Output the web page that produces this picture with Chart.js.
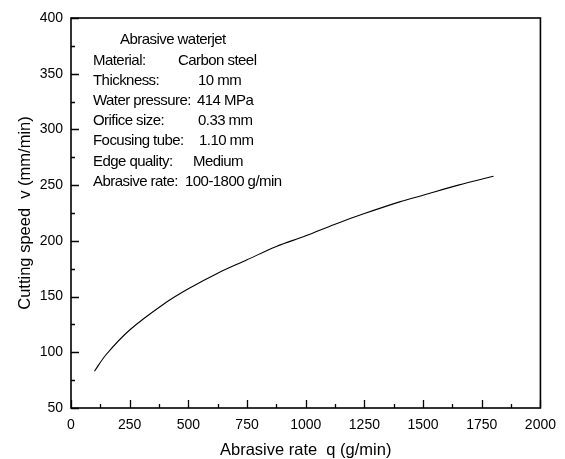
<!DOCTYPE html>
<html>
<head>
<meta charset="utf-8">
<script src="https://cdn.jsdelivr.net/npm/chart.js@4.4.1/dist/chart.umd.min.js"></script>
<style>
  html, body { margin: 0; padding: 0; background: #fff; }
  #wrap { width: 565px; height: 459px; }
</style>
</head>
<body>
<div id="wrap"><canvas id="speedChart"></canvas></div>
<script>
// abrasive flow rate (g/min) vs cutting speed (mm/min)
const abrasiveRate = [100, 150, 250, 400, 500, 625, 750, 875, 1000, 1125, 1250, 1400, 1500, 1650, 1800];
const cuttingSpeed = [83, 98, 120, 144, 157, 171, 183, 195, 204.5, 215, 224.5, 235, 241, 250, 258];

// x ticks every 250, y ticks every 50 (minor ticks halfway)
const xTicks = [0, 250, 500, 750, 1000, 1250, 1500, 1750, 2000];
const yTicks = [50, 100, 150, 200, 250, 300, 350, 400];

// annotation block in the upper left
const infoTitle = 'Abrasive waterjet';
const infoLabels = ['Material:', 'Thickness:', 'Water pressure:', 'Orifice size:', 'Focusing tube:', 'Edge quality:', 'Abrasive rate:'];
const infoValues = ['Carbon steel', '10 mm', '414 MPa', '0.33 mm', '1.10 mm', 'Medium', '100-1800 g/min'];
const infoValueX = [178, 198, 197, 198, 199, 193, 185];

const FONT = '"Liberation Sans", Arial, sans-serif';

const points = abrasiveRate.map((q, i) => ({ x: q, y: cuttingSpeed[i] }));

// frame, inward ticks and the info text
const frameAndNotes = {
    id: 'frameAndNotes',
    afterDraw(chart) {
        const ctx = chart.ctx;
        const a = chart.chartArea;
        const xs = chart.scales.x;
        const ys = chart.scales.y;
        ctx.save();
        ctx.strokeStyle = '#000';
        ctx.lineWidth = 1.6;
        ctx.strokeRect(a.left, a.top, a.right - a.left, a.bottom - a.top);

        ctx.lineWidth = 1.3;
        ctx.beginPath();
        for (let i = 0; i < xTicks.length; i++) {
            const px = Math.round(xs.getPixelForValue(xTicks[i])) + 0.5;
            ctx.moveTo(px, a.bottom);
            ctx.lineTo(px, a.bottom - 8);
            if (i < xTicks.length - 1) {
                const mx = Math.round(xs.getPixelForValue((xTicks[i] + xTicks[i + 1]) / 2)) + 0.5;
                ctx.moveTo(mx, a.bottom);
                ctx.lineTo(mx, a.bottom - 4);
            }
        }
        for (let i = 0; i < yTicks.length; i++) {
            const py = Math.round(ys.getPixelForValue(yTicks[i])) + 0.5;
            ctx.moveTo(a.left, py);
            ctx.lineTo(a.left + 8, py);
            if (i < yTicks.length - 1) {
                const my = Math.round(ys.getPixelForValue((yTicks[i] + yTicks[i + 1]) / 2)) + 0.5;
                ctx.moveTo(a.left, my);
                ctx.lineTo(a.left + 4, my);
            }
        }
        ctx.stroke();

        ctx.fillStyle = '#000';
        ctx.font = '15px ' + FONT;
        ctx.letterSpacing = '-0.55px';
        ctx.textBaseline = 'middle';
        ctx.textAlign = 'left';
        ctx.fillText(infoTitle, 120, 40);
        for (let i = 0; i < infoLabels.length; i++) {
            const y = 60.5 + i * 20.2;
            ctx.fillText(infoLabels[i], 93, y);
            ctx.fillText(infoValues[i], infoValueX[i], y);
        }
        ctx.restore();
    }
};

new Chart(document.getElementById('speedChart').getContext('2d'), {
    type: 'line',
    data: {
        datasets: [{
            label: 'Cutting speed',
            data: points,
            borderColor: '#000',
            borderWidth: 1.1,
            pointRadius: 0,
            fill: false,
            tension: 0.35
        }]
    },
    options: {
        responsive: true,
        maintainAspectRatio: false,
        animation: false,
        layout: { padding: { left: 0, top: 18, right: 20, bottom: 0 } },
        plugins: {
            legend: { display: false },
            tooltip: { enabled: false }
        },
        scales: {
            x: {
                type: 'linear',
                min: 0,
                max: 2000,
                afterBuildTicks: scale => { scale.ticks = xTicks.map(v => ({ value: v })); },
                afterFit: scale => { scale.height = 51; },
                grid: { display: false, drawTicks: false },
                border: { display: false },
                ticks: {
                    color: '#000',
                    padding: 9,
                    maxRotation: 0,
                    font: { family: FONT, size: 14 },
                    callback: v => String(v)
                },
                title: {
                    display: true,
                    text: 'Abrasive rate  q (g/min)',
                    color: '#000',
                    font: { family: FONT, size: 16.5, lineHeight: 1 },
                    padding: { top: 0, bottom: 0 }
                }
            },
            y: {
                min: 50,
                max: 400,
                afterBuildTicks: scale => { scale.ticks = yTicks.map(v => ({ value: v })); },
                afterFit: scale => { scale.width = 71; },
                grid: { display: false, drawTicks: false },
                border: { display: false },
                ticks: {
                    color: '#000',
                    padding: 8,
                    font: { family: FONT, size: 14 },
                    callback: v => String(v)
                },
                title: {
                    display: true,
                    text: 'Cutting speed  v (mm/min)',
                    color: '#000',
                    font: { family: FONT, size: 16.5, lineHeight: 1 },
                    padding: { top: 17, bottom: 0 }
                }
            }
        }
    },
    plugins: [frameAndNotes]
});
</script>
</body>
</html>
